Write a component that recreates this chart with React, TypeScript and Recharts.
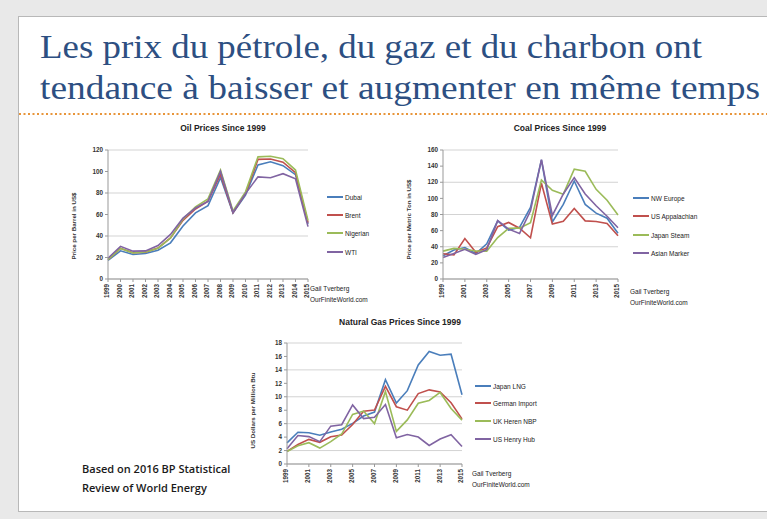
import React from 'react';
import { LineChart, Line, XAxis, YAxis, CartesianGrid } from 'recharts';

const years = ['1999', '2000', '2001', '2002', '2003', '2004', '2005', '2006', '2007', '2008', '2009', '2010', '2011', '2012', '2013', '2014', '2015'];

// oil, US$ per barrel
const dubai = [17.25, 26.2, 22.81, 23.74, 26.78, 33.64, 49.35, 61.5, 68.19, 94.34, 61.39, 78.06, 106.18, 109.08, 105.47, 97.07, 51.2];
const brent = [17.97, 28.5, 24.44, 25.02, 28.83, 38.27, 54.52, 65.14, 72.39, 97.26, 61.67, 79.5, 111.26, 111.67, 108.66, 98.95, 52.39];
const nigerian = [18.11, 28.42, 24.23, 25.04, 28.66, 38.13, 55.69, 67.07, 74.48, 101.43, 63.35, 81.05, 113.65, 114.21, 111.95, 101.35, 54.41];
const wti = [19.3, 30.37, 25.93, 26.16, 31.07, 41.49, 56.59, 66.02, 72.2, 100.06, 61.92, 79.45, 95.04, 94.13, 97.99, 93.28, 48.71];

// coal, US$ per metric ton
const nwEurope = [28.79, 35.99, 39.03, 31.65, 43.6, 72.08, 60.54, 64.11, 88.79, 147.67, 70.66, 92.5, 121.52, 92.5, 81.69, 75.38, 56.64];
const usAppalachian = [31.29, 29.9, 50.15, 33.2, 38.52, 64.9, 70.12, 62.96, 51.16, 118.79, 68.08, 71.63, 87.38, 72.06, 71.39, 69.0, 53.59];
const japanSteam = [34.58, 37.96, 36.9, 34.74, 34.58, 51.34, 62.91, 63.04, 69.86, 122.81, 110.11, 105.19, 136.21, 133.61, 111.16, 97.65, 79.47];
const asianMarker = [26.63, 31.76, 36.89, 30.41, 36.53, 72.42, 61.84, 56.47, 84.57, 148.06, 78.81, 105.43, 125.74, 105.5, 90.9, 77.89, 63.52];

// gas, US$ per million Btu
const japanLng = [3.14, 4.72, 4.64, 4.27, 4.77, 5.18, 6.05, 7.14, 7.73, 12.55, 9.06, 10.91, 14.73, 16.75, 16.17, 16.33, 10.31];
const germanImport = [1.88, 2.89, 3.66, 3.23, 4.06, 4.32, 5.88, 7.85, 8.03, 11.56, 8.52, 8.01, 10.48, 11.03, 10.72, 9.11, 6.72];
const ukNbp = [1.86, 2.71, 3.17, 2.37, 3.33, 4.46, 7.38, 7.87, 6.01, 10.79, 4.85, 6.56, 9.04, 9.46, 10.64, 8.25, 6.53];
const henryHub = [2.27, 4.23, 4.07, 3.33, 5.63, 5.85, 8.79, 6.76, 6.95, 8.85, 3.89, 4.39, 4.01, 2.76, 3.71, 4.35, 2.6];

const oilTicks = [0, 20, 40, 60, 80, 100, 120];
const coalTicks = [0, 20, 40, 60, 80, 100, 120, 140, 160];
const gasTicks = [0, 2, 4, 6, 8, 10, 12, 14, 16, 18];

const colors = ['#4a7ebb', '#c0504d', '#9bbb59', '#8064a2'];

const font = '"Liberation Sans", Arial, sans-serif';

type Series = { name: string; values: number[] };

interface PanelProps {
  left: number; top: number; width: number; height: number;
  margin: { top: number; right: number; bottom: number; left: number };
  yWidth: number;
  series: Series[];
  ticks: number[];
  yLabel: string;
  interval: number;
  title: string; titleX: number; titleY: number;
  legendX: number; legendY: number[];
  srcX: number; srcY: number;
}

function Panel(p: PanelProps) {
  const data = years.map((y, i) => {
    const row: Record<string, string | number> = { year: y };
    p.series.forEach(s => { row[s.name] = s.values[i]; });
    return row;
  });
  const txt: React.CSSProperties = { position: 'absolute', fontFamily: font, color: '#222', whiteSpace: 'nowrap' };
  return (
    <>
      <div style={{ ...txt, left: p.titleX - 100, width: 200, top: p.titleY - 6, textAlign: 'center', fontSize: 8.5, fontWeight: 'bold' }}>{p.title}</div>
      <div style={{ position: 'absolute', left: p.left, top: p.top }}>
        <LineChart width={p.width} height={p.height} data={data} margin={p.margin}>
          <CartesianGrid vertical={false} stroke="#c8c8c8" strokeWidth={0.8} />
          <XAxis
            dataKey="year" interval={p.interval} height={30} tickSize={3}
            stroke="#999" angle={-90} textAnchor="end" dx={-3}
            tick={{ fontSize: 6.3, fill: '#333', fontWeight: 'bold', fontFamily: font }}
          />
          <YAxis
            domain={[p.ticks[0], p.ticks[p.ticks.length - 1]]} ticks={p.ticks} width={p.yWidth}
            tickSize={3} stroke="#999"
            tick={{ fontSize: 6.3, fill: '#333', fontWeight: 'bold', fontFamily: font }}
            label={{ value: p.yLabel, angle: -90, position: 'insideLeft', offset: 4, dy: 45, style: { fontSize: 6.2, fill: '#333', fontWeight: 'bold', fontFamily: font } }}
          />
          {p.series.map((s, i) => (
            <Line key={s.name} dataKey={s.name} stroke={colors[i]} strokeWidth={1.6} dot={false} isAnimationActive={false} />
          ))}
        </LineChart>
      </div>
      {p.series.map((s, i) => (
        <div key={s.name} style={{ ...txt, left: p.legendX, top: p.legendY[i] - 5, fontSize: 6.5, display: 'flex', alignItems: 'center', height: 10 }}>
          <span style={{ display: 'inline-block', width: 16, height: 2, background: colors[i], marginRight: 2 }} />
          {s.name}
        </div>
      ))}
      <div style={{ ...txt, left: p.srcX, top: p.srcY - 5, fontSize: 6.5, lineHeight: '11px' }}>
        Gail Tverberg<br />OurFiniteWorld.com
      </div>
    </>
  );
}

export default function App() {
  return (
    <div style={{ position: 'absolute', left: 0, top: 0, width: 767, height: 519, background: '#e9e9e9', overflow: 'hidden' }}>
      <div style={{ position: 'absolute', left: 18, top: 16, width: 760, height: 494, background: '#fff', border: '1px solid #b8b8b8' }} />
      <svg width={767} height={130} style={{ position: 'absolute', left: 0, top: 0 }}>
        <text x={40} y={58} fontFamily='"Liberation Serif", serif' fontSize={34} fill="#2d4f82" textLength={662} lengthAdjust="spacingAndGlyphs">
          Les prix du pétrole, du gaz et du charbon ont
        </text>
        <text x={40} y={99} fontFamily='"Liberation Serif", serif' fontSize={34} fill="#2d4f82" textLength={720} lengthAdjust="spacingAndGlyphs">
          tendance à baisser et augmenter en même temps
        </text>
        <line x1={19} x2={767} y1={114} y2={114} stroke="#e8953a" strokeWidth={2} strokeDasharray="2 2.5" />
      </svg>

      <Panel
        left={60} top={115} width={260} height={200}
        margin={{ top: 35, right: 12, bottom: 6, left: 10 }} yWidth={38}
        series={[
          { name: 'Dubai', values: dubai },
          { name: 'Brent', values: brent },
          { name: 'Nigerian', values: nigerian },
          { name: 'WTI', values: wti },
        ]}
        ticks={oilTicks} yLabel="Price per Barrel in US$" interval={0}
        title="Oil Prices Since 1999" titleX={223} titleY={129}
        legendX={327} legendY={[197, 215, 233, 252]}
        srcX={310} srcY={288}
      />

      <Panel
        left={400} top={115} width={230} height={200}
        margin={{ top: 35, right: 12, bottom: 6, left: 5 }} yWidth={38}
        series={[
          { name: 'NW Europe', values: nwEurope },
          { name: 'US Appalachian', values: usAppalachian },
          { name: 'Japan Steam', values: japanSteam },
          { name: 'Asian Marker', values: asianMarker },
        ]}
        ticks={coalTicks} yLabel="Price per Metric Ton in US$" interval={1}
        title="Coal Prices Since 1999" titleX={560} titleY={129}
        legendX={633} legendY={[198, 216, 235, 253]}
        srcX={630} srcY={291}
      />

      <Panel
        left={240} top={315} width={235} height={185}
        margin={{ top: 28, right: 13, bottom: 6, left: 9 }} yWidth={38}
        series={[
          { name: 'Japan LNG', values: japanLng },
          { name: 'German Import', values: germanImport },
          { name: 'UK Heren NBP', values: ukNbp },
          { name: 'US Henry Hub', values: henryHub },
        ]}
        ticks={gasTicks} yLabel="US Dollars per Million Btu" interval={1}
        title="Natural Gas Prices Since 1999" titleX={400} titleY={323}
        legendX={475} legendY={[386, 403, 421, 439]}
        srcX={472} srcY={473}
      />

      <div style={{ position: 'absolute', left: 82, top: 459, fontFamily: '"Open Sans", sans-serif', fontSize: 11, fontWeight: 600, color: '#1a1a1a', lineHeight: '19px' }}>
        Based on 2016 BP Statistical<br />Review of World Energy
      </div>
    </div>
  );
}
